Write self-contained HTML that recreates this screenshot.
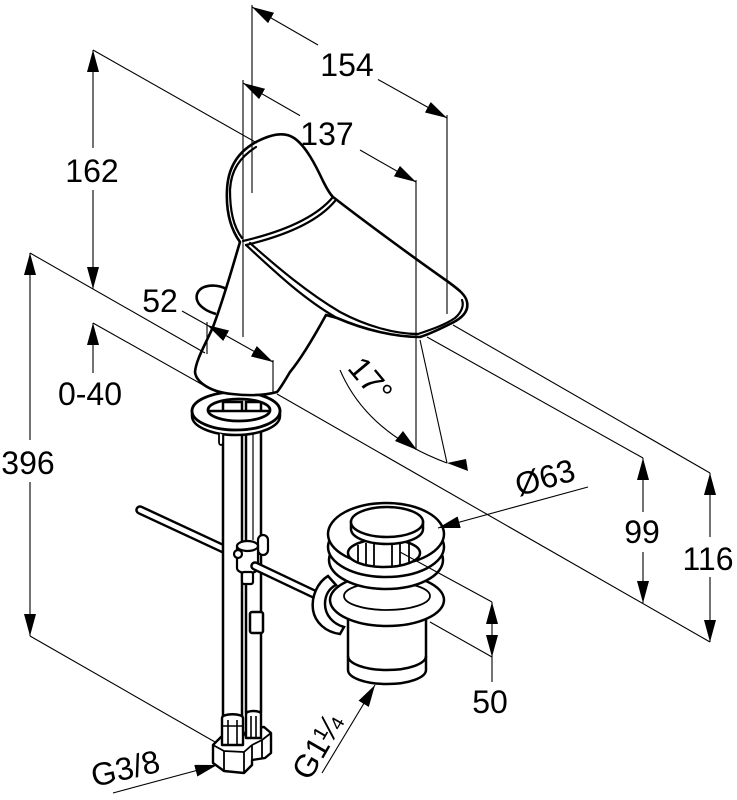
<!DOCTYPE html>
<html><head><meta charset="utf-8">
<style>
html,body{margin:0;padding:0;background:#fff;}
svg{display:block;}
text{font-family:"Liberation Sans",Arial,sans-serif;font-size:32px;fill:#000;}
</style></head>
<body>
<svg width="737" height="800" viewBox="0 0 737 800" xmlns="http://www.w3.org/2000/svg">
<defs>
<marker id="ae" markerUnits="userSpaceOnUse" markerWidth="22" markerHeight="12" refX="22" refY="6" orient="auto"><path d="M0,0 L22,6 L0,12 Z" fill="#000"/></marker>
<marker id="as" markerUnits="userSpaceOnUse" markerWidth="22" markerHeight="12" refX="22" refY="6" orient="auto-start-reverse"><path d="M0,0 L22,6 L0,12 Z" fill="#000"/></marker>
</defs>
<rect width="737" height="800" fill="#fff"/>

<!-- ===== lift rod (behind pipes) ===== -->
<line x1="140" y1="510" x2="226" y2="550" stroke="#000" stroke-width="9.5" stroke-linecap="round"/>
<line x1="140" y1="510" x2="226" y2="550" stroke="#fff" stroke-width="4.6" stroke-linecap="round"/>

<!-- ===== hoses ===== -->
<g stroke="#000" stroke-width="2.5" fill="#fff">
<rect x="223" y="402" width="19" height="314"/>
<rect x="246" y="402" width="15" height="310"/>
<rect x="250" y="612" width="13" height="21" rx="2"/>
</g>
<line x1="253" y1="430" x2="253" y2="540" stroke="#000" stroke-width="1.2"/>

<!-- ===== escutcheon ring ===== -->
<path d="M192,416 A44,19 0 0 0 280,416 L280,411 L192,411 Z" fill="#fff" stroke="#000" stroke-width="2.5"/>
<path fill-rule="evenodd" fill="#fff" stroke="#000" stroke-width="2.8"
 d="M192,411 A44,19 0 1 0 280,411 A44,19 0 1 0 192,411 Z M208,410 A31,11 0 1 0 270,410 A31,11 0 1 0 208,410 Z"/>
<path d="M219,433 L219,442 C219,446 223,446 223,442 L223,435" fill="#fff" stroke="#000" stroke-width="1.8"/>

<!-- ===== lever knob ===== -->
<path d="M229,291 C222,285 210,284 202,288 C196,292 195,298 199,304 C203,309 209,312 216,314" fill="#fff" stroke="#000" stroke-width="2.6"/>

<!-- ===== faucet body silhouette ===== -->
<path fill="#fff" stroke="#000" stroke-width="2.6" stroke-linejoin="round"
 d="M240,242 C230,228 226,210 227,190 C228,165 240,150 258,141 C270,135 284,131 294,138 C306,146 316,166 323,181 C327,189 330,194 333,197 C360,218 410,255 447,281 C458,289 466,295 467,302 C469,311 462,318 452,323 C442,328 430,334 420,337 C395,337 365,330 337,318 L326,315 C315,335 300,360 290,372 C284,382 280,389 277,392 C266,395 250,396 232,394 C210,392 196,382 195,372 C196,360 205,345 213,327 C225,295 233,265 240,242 Z"/>
<g fill="none" stroke="#000" stroke-width="2.2" stroke-linecap="round">
<path d="M333,197 C318,215 290,230 243,241"/>
<path d="M335,201 C320,219 292,234 246,245"/>
<path d="M242,238 C233,226 230,210 230,190 C231,170 240,157 256,147"/>
<path d="M246,245 C275,272 305,300 337,318"/>
<path d="M250,243 C278,268 308,293 340,312 C366,326 395,334 418,334 C430,330 445,325 455,318 C462,312 464,305 462,300"/>
</g>

<!-- ===== pipe clamp ===== -->
<g stroke="#000" stroke-width="2.2" fill="#fff">
<rect x="258" y="535" width="10" height="20" rx="5"/>
<path d="M237,546 L237,568 C237,575 258,575 258,568 L258,546 Z"/>
<ellipse cx="247.5" cy="546" rx="10.5" ry="5"/>
<circle cx="238" cy="554" r="4"/>
<rect x="242" y="572" width="11" height="12" rx="2"/>
</g>
<line x1="255" y1="566" x2="314" y2="594" stroke="#000" stroke-width="9.5" stroke-linecap="round"/>
<line x1="255" y1="566" x2="314" y2="594" stroke="#fff" stroke-width="4.6" stroke-linecap="round"/>

<!-- ===== drain ===== -->
<g stroke="#000" stroke-width="2.5" fill="#fff">
<path d="M348,618 L348,670 A39,14 0 0 0 426,670 L426,618 Z"/>
<path d="M348,656 A39,14 0 0 0 426,656" fill="none"/>
<ellipse cx="387" cy="600" rx="57" ry="26"/>
<ellipse cx="387" cy="596" rx="43" ry="14" stroke-width="1.8"/>
<ellipse cx="386" cy="560" rx="57" ry="29"/>
<ellipse cx="386" cy="547" rx="58" ry="30"/>
<ellipse cx="386" cy="534" rx="58" ry="31"/>
<ellipse cx="384" cy="553" rx="36" ry="14"/>
</g>
<g stroke="#000" stroke-width="1.8">
<line x1="358" y1="545" x2="358" y2="563"/>
<line x1="366" y1="543" x2="366" y2="565"/>
<line x1="374" y1="543" x2="374" y2="566"/>
<line x1="392" y1="543" x2="392" y2="566"/>
<line x1="400" y1="543" x2="400" y2="565"/>
<line x1="409" y1="544" x2="409" y2="563"/>
</g>
<g stroke="#000" stroke-width="2.5" fill="#fff">
<path d="M351,522 L351,529 A36,15 0 0 0 423,529 L423,522 Z"/>
<ellipse cx="387" cy="522" rx="36" ry="15"/>
<path d="M328,576 C318,582 311,596 313,610 C315,622 325,632 340,634 L344,627 C333,624 325,615 325,604 C325,594 330,588 336,585 Z"/>
</g>

<!-- ===== G3/8 fittings ===== -->
<g stroke="#000" stroke-width="2.4" fill="#fff" stroke-linejoin="round">
<path d="M213,745 L213,763 L224,771 L244,773 L252,765 L252,760 L265,758 L271,753 L271,733 L264,727 L248,729 L243,736 L222,736 Z"/>
<path d="M213,745 L224,751 L244,752 L252,745 M224,751 L224,771 M244,752 L244,773 M252,745 L252,760 M252,745 L262,740 L271,733 M262,740 L262,758" fill="none" stroke-width="1.8"/>
<path d="M222,745 L222,718 C222,713 243,713 243,718 L243,745 Z"/>
<path d="M228,720 L228,745 M237,720 L237,745 M222,726 L243,726" fill="none" stroke-width="1.6"/>
<path d="M246,738 L246,714 C246,710 261,710 261,714 L261,738 Z"/>
<path d="M251,716 L251,738 M256,716 L256,738" fill="none" stroke-width="1.6"/>
</g>

<!-- ===== dimension lines ===== -->
<g stroke="#000" stroke-width="1.1" fill="none">
<line x1="252" y1="5" x2="252" y2="193"/>
<line x1="447" y1="115" x2="447" y2="314"/>
<line x1="252" y1="7" x2="318" y2="45" marker-start="url(#as)"/>
<line x1="378" y1="79.5" x2="447" y2="118" marker-end="url(#ae)"/>
<line x1="243" y1="80" x2="243" y2="337"/>
<line x1="416" y1="180" x2="416" y2="450"/>
<line x1="243" y1="83" x2="300" y2="115.6" marker-start="url(#as)"/>
<line x1="360" y1="150" x2="416" y2="182" marker-end="url(#ae)"/>
<line x1="93" y1="50" x2="257" y2="143"/>
<line x1="93" y1="50" x2="93" y2="148" marker-start="url(#as)"/>
<line x1="93" y1="190" x2="93" y2="289" marker-end="url(#ae)"/>
<line x1="30" y1="253" x2="205" y2="353"/>
<line x1="277" y1="394" x2="710" y2="642"/>
<line x1="30" y1="253" x2="30" y2="440" marker-start="url(#as)"/>
<line x1="30" y1="482" x2="30" y2="636" marker-end="url(#ae)"/>
<line x1="30" y1="636" x2="215" y2="742"/>
<line x1="93" y1="323" x2="203" y2="385"/>
<line x1="93" y1="323" x2="93" y2="373" marker-start="url(#as)"/>
<line x1="182" y1="311" x2="207" y2="325"/>
<line x1="207" y1="325" x2="273" y2="362" marker-start="url(#as)" marker-end="url(#ae)"/>
<line x1="207" y1="322" x2="207" y2="354"/>
<line x1="273" y1="360" x2="273" y2="393"/>
<line x1="427" y1="337" x2="643" y2="458"/>
<line x1="643" y1="458" x2="643" y2="512" marker-start="url(#as)"/>
<line x1="643" y1="552" x2="643" y2="603" marker-end="url(#ae)"/>
<line x1="453" y1="325" x2="710" y2="473"/>
<line x1="710" y1="473" x2="710" y2="537" marker-start="url(#as)"/>
<line x1="710" y1="577" x2="710" y2="642" marker-end="url(#ae)"/>
<line x1="588" y1="487" x2="438" y2="528" marker-end="url(#ae)"/>
<line x1="400" y1="552" x2="492" y2="602"/>
<line x1="430" y1="622" x2="492" y2="657"/>
<line x1="492" y1="630" x2="492" y2="602" marker-end="url(#ae)"/>
<line x1="492" y1="630" x2="492" y2="657" marker-end="url(#ae)"/>
<line x1="492" y1="657" x2="492" y2="682"/>
<line x1="113" y1="793" x2="217" y2="765" marker-end="url(#ae)"/>
<line x1="322" y1="773" x2="375" y2="685" marker-end="url(#ae)"/>
<line x1="420" y1="340" x2="447" y2="463"/>
<path d="M340,370 C355,405 385,440 447,463"/>
</g>
<polygon points="417,450 395,441 403,431" fill="#000"/>
<polygon points="447,463 466,459 468,471" fill="#000"/>

<!-- ===== labels ===== -->
<text x="347" y="76" text-anchor="middle">154</text>
<text x="327" y="145" text-anchor="middle">137</text>
<text x="92" y="182" text-anchor="middle">162</text>
<text x="160" y="312" text-anchor="middle">52</text>
<text x="90" y="405" text-anchor="middle">0-40</text>
<text x="28" y="474" text-anchor="middle">396</text>
<text x="642" y="543" text-anchor="middle">99</text>
<text x="708" y="570" text-anchor="middle">116</text>
<text x="490" y="713" text-anchor="middle">50</text>
<text transform="translate(548,488) rotate(-16)" text-anchor="middle">Ø63</text>
<text transform="translate(362,387) rotate(50)" text-anchor="middle">17°</text>
<text transform="translate(94,787) rotate(-13)">G3/8</text>
<text transform="translate(327,752) rotate(-60)" text-anchor="middle">G1¼</text>
</svg>
</body></html>
